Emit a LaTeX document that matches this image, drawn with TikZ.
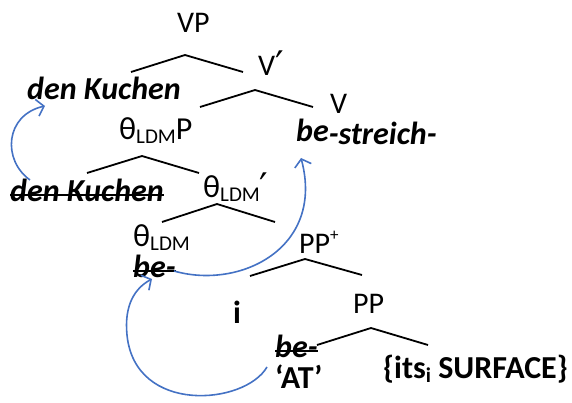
\documentclass[tikz,border=0pt]{standalone}
\usepackage{fontspec}
\setmainfont{Carlito}
\newfontfamily\primefont{DejaVu Sans}
\usetikzlibrary{arrows.meta}
\definecolor{arrblue}{RGB}{68,114,196}
\newcommand\fsz[1]{\fontsize{#1}{#1}\selectfont}
\newcommand\lowsub[1]{\raisebox{-4pt}{\fsz{21}#1}}
\newcommand\hisup[1]{\raisebox{13pt}{\fsz{17}#1}}
\newcommand\prm{{\primefont\fsz{38}\raisebox{-3pt}{′}}}
\begin{document}
\begin{tikzpicture}[x=1pt,y=-1pt,
  lbl/.style={inner sep=0pt,anchor=base west,font=\fsz{30}},
  big/.style={inner sep=0pt,anchor=base west,font=\fsz{32}},
  bi/.style={inner sep=0pt,anchor=base west,font=\fsz{32}\bfseries\itshape},
  bb/.style={inner sep=0pt,anchor=base west,font=\fsz{32}\bfseries},
  branch/.style={line width=1.8pt,black},
  strike/.style={line width=1.8pt,black},
  mv/.style={line width=1.6pt,arrblue,-{Straight Barb[length=7pt,width=17pt,line width=1.6pt]}}]
\useasboundingbox (0,0) rectangle (572,403);
% labels
\node[lbl] (vp) at (177,33) {VP};
\node[lbl] (vbar) at (258,76) {V\prm};
\node[bi] (dk) at (27,100) {den Kuchen};
\node[big] (thp) at (119,140) {θ\lowsub{LDM}P};
\node[lbl] (v) at (330,114) {V};
\node[bi] (bes) at (296,145) {\raisebox{3pt}{be}-streich-};
\node[bi] (dks) at (10,202) {den Kuchen};
\node[big] (thbar) at (203,198) {θ\lowsub{LDM}\prm};
\node[big] (th) at (133,246) {θ\lowsub{LDM}};
\node[bi] (be1) at (133,277) {be-};
\node[lbl] (ppp) at (299,253) {PP\hisup{+}};
\node[bb] (i) at (233,323) {i};
\node[lbl] (pp) at (353,313) {PP};
\node[bi] (be2) at (275,357) {be-};
\node[bb] (at) at (275,388) {‘AT’};
\node[bb] (surf) at (383,378) {\{its\lowsub{\bfseries i} SURFACE\}};
% strikes
\draw[strike] ([yshift=7pt]dks.base west) -- ([yshift=7pt]dks.base east);
\draw[strike] ([yshift=6pt]be1.base west) -- ([yshift=6pt]be1.base east);
\draw[strike] ([yshift=6pt]be2.base west) -- ([yshift=6pt]be2.base east);
% branch coordinates
\coordinate (a1) at (185,55); \coordinate (l1) at (131,72); \coordinate (r1) at (243,72);
\coordinate (a2) at (255,90); \coordinate (l2) at (200,107); \coordinate (r2) at (313,107);
\coordinate (a3) at (142,156); \coordinate (l3) at (87,173); \coordinate (r3) at (199,173);
\coordinate (a4) at (217,204); \coordinate (l4) at (162,222); \coordinate (r4) at (275,222);
\coordinate (a5) at (305,259); \coordinate (l5) at (250,276); \coordinate (r5) at (362,275);
\coordinate (a6) at (371,328); \coordinate (l6) at (317,345); \coordinate (r6) at (428,345);
\foreach \k in {1,...,6} {\draw[branch] (l\k) -- (a\k) -- (r\k);}
% movement arrows
\coordinate (s1) at (30,180); \coordinate (e1) at (45,106);
\draw[mv] (s1) .. controls (2,160) and (5,115) .. (e1);
\coordinate (s2) at (174,271); \coordinate (e2) at (301,158);
\draw[mv] (s2) .. controls (240,290) and (325,248) .. (e2);
\coordinate (s3) at (267,367); \coordinate (m3) at (127,335); \coordinate (e3) at (152,279);
\draw[mv] (s3) .. controls (245,405) and (135,415) .. (m3) .. controls (124,305) and (135,288) .. (e3);
\end{tikzpicture}
\end{document}
